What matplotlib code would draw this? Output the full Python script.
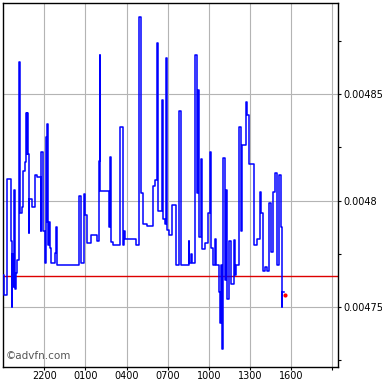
import numpy as np
import matplotlib
matplotlib.use("Agg")
import matplotlib.pyplot as plt
from matplotlib.ticker import MultipleLocator, FixedLocator

# trades, clock time (session starts 19:00 the day before)
times = [
    "19:00", "19:04", "19:19", "19:34", "19:38", "19:41", "19:44", "19:49", "19:52", "19:57",
    "20:00", "20:02", "20:11", "20:13", "20:23", "20:29", "20:35", "20:41", "20:44", "20:46",
    "20:48", "20:52", "20:55", "21:07", "21:21", "21:30", "21:45", "21:47", "21:56", "22:02",
    "22:08", "22:12", "22:14", "22:18", "22:21", "22:26", "22:30", "22:47", "22:52", "22:56",
    "00:34", "00:42", "00:54", "00:57", "01:09", "01:26", "01:52", "01:58", "02:02", "02:04",
    "02:45", "02:48", "02:54", "03:00", "03:32", "03:46", "03:49", "03:55", "04:42", "04:53",
    "05:02", "05:14", "05:28", "05:57", "06:06", "06:15", "06:19", "06:37", "06:41", "06:47",
    "06:53", "06:59", "07:07", "07:19", "07:37", "07:51", "07:57", "08:32", "08:35", "08:43",
    "08:47", "08:58", "09:07", "09:13", "09:18", "09:27", "09:30", "09:45", "09:57", "10:05",
    "10:11", "10:17", "10:26", "10:31", "10:43", "10:49", "10:55", "10:58", "11:01", "11:03",
    "11:10", "11:15", "11:21", "11:30", "11:38", "11:50", "11:55", "11:59", "12:13", "12:19",
    "12:25", "12:43", "12:48", "12:57", "13:18", "13:29", "13:44", "13:50", "13:56", "14:04",
    "14:13", "14:22", "14:31", "14:39", "14:48", "14:57", "15:06", "15:14", "15:19", "15:21",
    "15:29",
]
prices = [
    0.0047650, 0.0047556, 0.0048101, 0.0047810, 0.0047500, 0.0047749, 0.0047594, 0.0048049, 0.0047585, 0.0047660,
    0.0047678, 0.0047721, 0.0048650, 0.0047941, 0.0047970, 0.0048139, 0.0048181, 0.0048411, 0.0048218, 0.0048411,
    0.0048218, 0.0047847, 0.0048007, 0.0047970, 0.0048120, 0.0048110, 0.0047857, 0.0048228, 0.0047857, 0.0047707,
    0.0048298, 0.0047899, 0.0048359, 0.0047791, 0.0047899, 0.0047777, 0.0047707, 0.0047754, 0.0047876, 0.0047697,
    0.0048021, 0.0047707, 0.0048031, 0.0047932, 0.0047801, 0.0047838, 0.0047810, 0.0048186, 0.0048683, 0.0048045,
    0.0047876, 0.0048204, 0.0047805, 0.0047791, 0.0048345, 0.0047791, 0.0047857, 0.0047819, 0.0047791, 0.0048862,
    0.0048035, 0.0047890, 0.0047880, 0.0048068, 0.0048096, 0.0048740, 0.0047951, 0.0048472, 0.0047913, 0.0047890,
    0.0048669, 0.0047862, 0.0047838, 0.0047979, 0.0047697, 0.0048420, 0.0047697, 0.0047810, 0.0047707, 0.0047749,
    0.0047707, 0.0048683, 0.0048035, 0.0048519, 0.0047829, 0.0048195, 0.0047772, 0.0047801, 0.0047941, 0.0048228,
    0.0047777, 0.0047697, 0.0047819, 0.0047697, 0.0047570, 0.0047425, 0.0047697, 0.0047303, 0.0047697, 0.0048200,
    0.0047627, 0.0048049, 0.0047538, 0.0047810, 0.0047608, 0.0047815, 0.0047650, 0.0047697, 0.0048345, 0.0047857,
    0.0048261, 0.0048462, 0.0048401, 0.0048171, 0.0047791, 0.0047819, 0.0048040, 0.0047941, 0.0047669, 0.0047688,
    0.0047669, 0.0047988, 0.0047758, 0.0048040, 0.0048129, 0.0047697, 0.0048120, 0.0047876, 0.0047500, 0.0047570,
    0.0047570,
]
prev_close = 0.0047646
last_time = "15:32"
last_price = 0.0047558

x_labels = ["2200", "0100", "0400", "0700", "1000", "1300", "1600"]
y_ticks = [0.00475, 0.0048, 0.00485]
y_labels = ["0.00475", "0.0048", "0.00485"]


def toHours(t):
    hh, mm = t.split(":")
    return (int(hh) + int(mm) / 60 - 19) % 24


hours = np.array([toHours(t) for t in times])

fig = plt.figure(figsize=(3.82, 3.82), dpi=100)
ax = fig.add_axes([0.008, 0.039, 0.877, 0.953])

ax.plot(hours, prices, color="#0000ff", lw=1.1, drawstyle="steps-post", zorder=3)
ax.axhline(prev_close, color="#dd0000", lw=1, zorder=2)
ax.plot([toHours(last_time)], [last_price], "o", color="#ff0000", ms=3, mec="none", zorder=4)

ax.set_xlim(0, 24.42)
ax.set_ylim(0.0047218, 0.0048927)

ax.xaxis.set_major_locator(FixedLocator([3, 6, 9, 12, 15, 18, 21, 24]))
ax.set_xticklabels(x_labels + [""])
ax.set_yticks(y_ticks)
ax.set_yticklabels(y_labels)
ax.yaxis.set_minor_locator(MultipleLocator(0.000025))
ax.yaxis.tick_right()
ax.tick_params(axis="both", which="major", labelsize=7, length=2.5, width=0.8, colors="black")
ax.tick_params(axis="x", which="major", pad=0.5)
ax.tick_params(axis="y", which="major", pad=1)
ax.tick_params(axis="y", which="minor", length=2.5, width=0.8, right=True)

ax.grid(True, which="major", color="#b4b4b4", lw=0.8, zorder=1)
for s in ax.spines.values():
    s.set_color("black")
    s.set_linewidth(1)

ax.text(0.008, 0.03, "\u00a9advfn.com", transform=ax.transAxes, fontsize=7.5,
        color="#555555", va="center", ha="left")

fig.savefig("out.png", dpi=100)
